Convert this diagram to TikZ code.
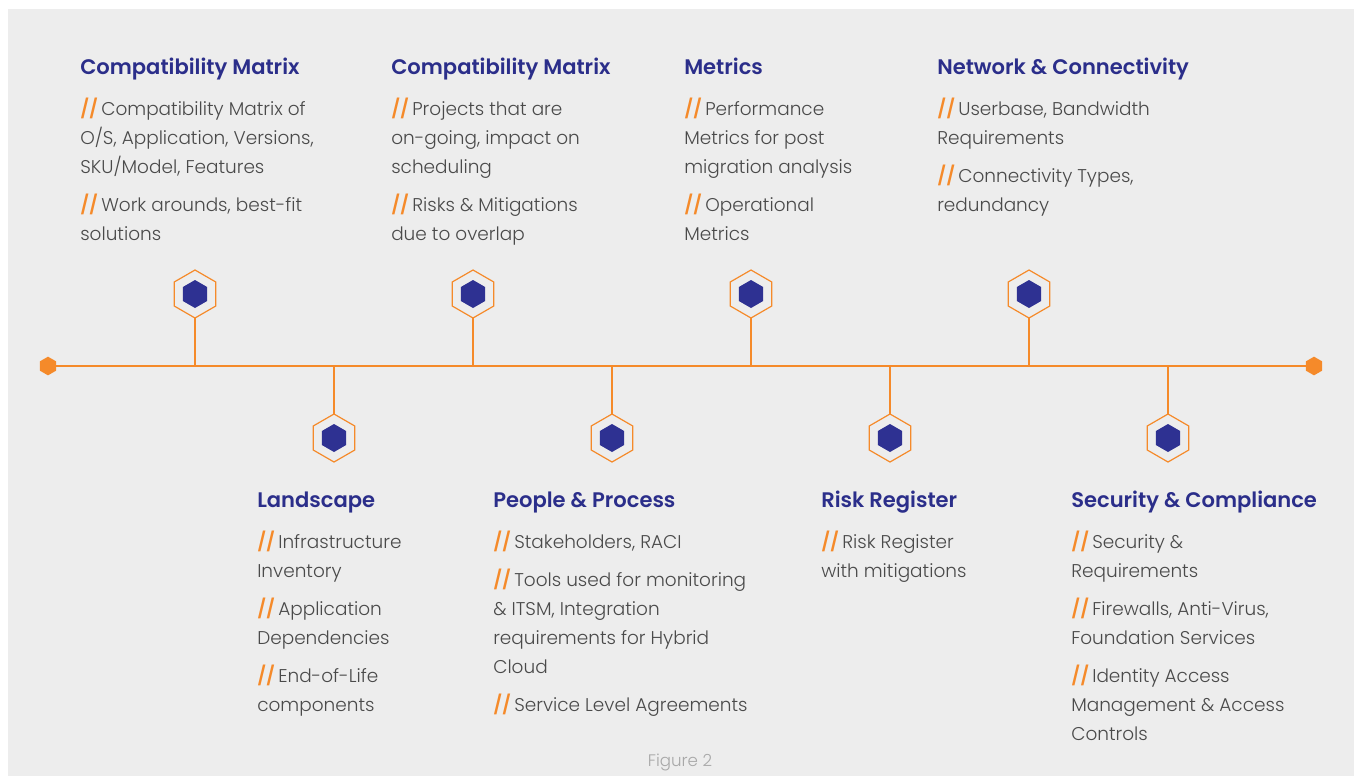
\documentclass[tikz,border=0pt]{standalone}
\usepackage{fontspec}
\setmainfont{Poppins}[UprightFont={* Light},BoldFont={* SemiBold}]
\usetikzlibrary{shapes.geometric}
\definecolor{bg}{HTML}{EDEDED}
\definecolor{org}{HTML}{F58A2A}
\definecolor{navy}{HTML}{2E3192}
\definecolor{ttlc}{HTML}{2B2E8A}
\definecolor{txt}{HTML}{4A4A4A}
\definecolor{capc}{HTML}{A8A8A8}
\newcommand{\bul}{{\bfseries\color{org}//}\,}
\newcommand{\blk}[1]{\begin{tabular}[t]{@{}l@{}}#1\end{tabular}}
\begin{document}
\begin{tikzpicture}[x=0.75pt,y=-0.75pt,
  hexout/.style={regular polygon,regular polygon sides=6,shape border rotate=30,minimum size=36pt,inner sep=0pt,outer sep=0pt,draw=org,line width=0.9pt,fill=bg},
  hexin/.style={regular polygon,regular polygon sides=6,shape border rotate=30,minimum size=21pt,inner sep=0pt,outer sep=0pt,fill=navy},
  endhex/.style={regular polygon,regular polygon sides=6,shape border rotate=30,minimum size=14pt,inner sep=0pt,outer sep=0pt,fill=org},
  tline/.style={draw=org,line width=1.6pt},
  stem/.style={draw=org,line width=0.9pt},
  ttl/.style={anchor=base west,font=\bfseries\fontsize{15.8}{19}\selectfont,text=ttlc,inner sep=0pt},
  body/.style={anchor=base west,font=\fontsize{13.85}{21.75}\selectfont,text=txt,inner sep=0pt}]
\useasboundingbox (0,0) rectangle (1354,776);
\fill[bg] (8,9) rectangle (1354,776);
% end points and timeline
\node[endhex] (eL) at (48,366) {};
\node[endhex] (eR) at (1314,366) {};
\draw[tline] (eL) -- (eR);
% upper markers
\foreach \n/\x in {u1/195,u2/473,u3/751,u4/1029}{
  \node[hexout] (\n) at (\x,294) {};
  \node[hexin] (\n i) at (\n) {};
  \draw[stem] (\n.south) -- (\n.south |- eL.center);
}
% lower markers
\foreach \n/\x in {l1/334,l2/612,l3/890,l4/1168}{
  \node[hexout] (\n) at (\x,438) {};
  \node[hexin] (\n i) at (\n) {};
  \draw[stem] (\n.north) -- (\n.north |- eL.center);
}
% upper texts
\node[ttl] (t1) at (80,74) {Compatibility Matrix};
\node[body] (b1) at (80,115) {\blk{\bul Compatibility Matrix of\\O/S, Application, Versions,\\SKU/Model, Features\\[6.75pt]\bul Work arounds, best-fit\\solutions}};
\node[ttl] (t2) at (391,74) {Compatibility Matrix};
\node[body] (b2) at (391,115) {\blk{\bul Projects that are\\on-going, impact on\\scheduling\\[6.75pt]\bul Risks \& Mitigations\\due to overlap}};
\node[ttl] (t3) at (684,74) {Metrics};
\node[body] (b3) at (684,115) {\blk{\bul Performance\\Metrics for post\\migration analysis\\[6.75pt]\bul Operational\\Metrics}};
\node[ttl] (t4) at (937,74) {Network \& Connectivity};
\node[body] (b4) at (937,115) {\blk{\bul Userbase, Bandwidth\\Requirements\\[6.75pt]\bul Connectivity Types,\\redundancy}};
% lower texts
\node[ttl] (t5) at (257,507) {Landscape};
\node[body] (b5) at (257,548) {\blk{\bul Infrastructure\\Inventory\\[6.75pt]\bul Application\\Dependencies\\[6.75pt]\bul End-of-Life\\components}};
\node[ttl] (t6) at (493,507) {People \& Process};
\node[body] (b6) at (493,548) {\blk{\bul Stakeholders, RACI\\[6.75pt]\bul Tools used for monitoring\\\& ITSM, Integration\\requirements for Hybrid\\Cloud\\[6.75pt]\bul Service Level Agreements}};
\node[ttl] (t7) at (821,507) {Risk Register};
\node[body] (b7) at (821,548) {\blk{\bul Risk Register\\with mitigations}};
\node[ttl] (t8) at (1071,507) {Security \& Compliance};
\node[body] (b8) at (1071,548) {\blk{\bul Security \&\\Requirements\\[6.75pt]\bul Firewalls, Anti-Virus,\\Foundation Services\\[6.75pt]\bul Identity Access\\Management \& Access\\Controls}};
\node[font=\fontsize{12.5}{15}\selectfont,text=capc] (fig) at (680,762) {Figure 2};
\end{tikzpicture}
\end{document}
